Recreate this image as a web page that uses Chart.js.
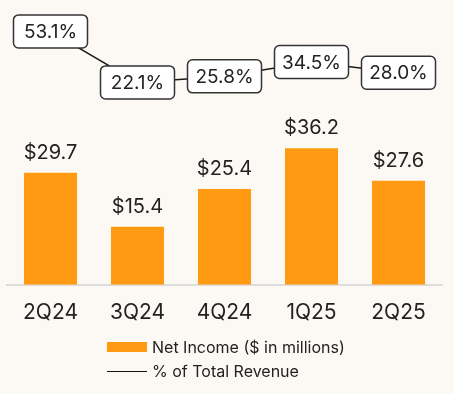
<!DOCTYPE html>
<html>
<head>
<meta charset="utf-8">
<script src="https://cdn.jsdelivr.net/npm/chart.js@4.4.0/dist/chart.umd.min.js"></script>
<style>
    html, body { margin: 0; padding: 0; background: #fcf9f4; }
    #wrap { position: relative; width: 454px; height: 394px; }
    #chart { position: absolute; left: 0; top: 0; }
    #legend { position: absolute; left: 107px; top: 335px; font-family: Inter, sans-serif; font-size: 16px; color: #222; }
    .row { display: flex; align-items: center; height: 24px; }
    .swatch { width: 40px; height: 10px; background: #ff9a12; margin-right: 5px; }
    .line { width: 40px; height: 0; border-top: 1.5px solid #111; margin-right: 5px; }
</style>
</head>
<body>
<div id="wrap">
    <canvas id="chart" width="454" height="394"></canvas>
    <div id="legend">
        <div class="row"><span class="swatch"></span>Net Income ($ in millions)</div>
        <div class="row"><span class="line"></span>% of Total Revenue</div>
    </div>
</div>
<script>
// Data
const quarters = ['2Q24', '3Q24', '4Q24', '1Q25', '2Q25'];
const netIncome = [29.7, 15.4, 25.4, 36.2, 27.6];
const pctRevenue = [53.1, 22.1, 25.8, 34.5, 28.0];

const colors = {
    bar: '#ff9a12',
    text: '#222222',
    line: '#1a1a1a',
    axis: '#dddddd'
};

// Value labels above bars
const barLabels = {
    id: 'barLabels',
    afterDatasetsDraw(chart) {
        const ctx = chart.ctx;
        const meta = chart.getDatasetMeta(1);
        ctx.save();
        ctx.font = '20px Inter, sans-serif';
        ctx.fillStyle = colors.text;
        ctx.textAlign = 'center';
        ctx.textBaseline = 'middle';
        meta.data.forEach(function(bar, i) {
            ctx.fillText('$' + netIncome[i].toFixed(1), bar.x, bar.y - 20);
        });
        ctx.restore();
    }
};

// Boxed percentage labels on the line
const pctBoxes = {
    id: 'pctBoxes',
    afterDatasetsDraw(chart) {
        const ctx = chart.ctx;
        const meta = chart.getDatasetMeta(0);
        const w = 74, h = 33;
        ctx.save();
        ctx.font = '19px Inter, sans-serif';
        ctx.textAlign = 'center';
        ctx.textBaseline = 'middle';
        meta.data.forEach(function(pt, i) {
            ctx.beginPath();
            ctx.roundRect(pt.x - w / 2, pt.y - h / 2, w, h, 5);
            ctx.fillStyle = '#ffffff';
            ctx.fill();
            ctx.lineWidth = 1.5;
            ctx.strokeStyle = '#333333';
            ctx.stroke();
            ctx.fillStyle = colors.text;
            ctx.fillText(pctRevenue[i].toFixed(1) + '%', pt.x, pt.y + 1);
        });
        ctx.restore();
    }
};

const ctx = document.getElementById('chart').getContext('2d');
new Chart(ctx, {
    data: {
        labels: quarters,
        datasets: [
            {
                type: 'line',
                label: '% of Total Revenue',
                data: pctRevenue,
                yAxisID: 'y1',
                borderColor: colors.line,
                borderWidth: 1.5,
                pointRadius: 0,
                tension: 0
            },
            {
                type: 'bar',
                label: 'Net Income ($ in millions)',
                data: netIncome,
                yAxisID: 'y',
                backgroundColor: colors.bar,
                borderWidth: 0,
                barPercentage: 0.61,
                categoryPercentage: 1
            }
        ]
    },
    options: {
        responsive: false,
        animation: false,
        layout: {
            padding: { top: 2, left: 7, right: 12, bottom: 62 }
        },
        plugins: {
            legend: { display: false },
            tooltip: { enabled: false }
        },
        scales: {
            x: {
                grid: { display: false },
                border: { display: true, color: colors.axis, width: 2 },
                ticks: {
                    color: colors.text,
                    padding: 7,
                    font: { family: 'Inter, sans-serif', size: 21 }
                }
            },
            y: {
                display: false,
                min: 0,
                max: 75
            },
            y1: {
                display: false,
                min: -101,
                max: 71
            }
        }
    },
    plugins: [barLabels, pctBoxes]
});
</script>
</body>
</html>
